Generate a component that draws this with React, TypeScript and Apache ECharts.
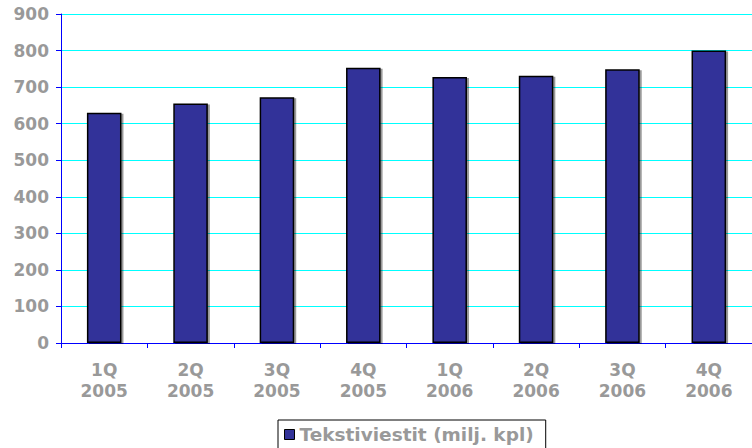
import React, { useEffect, useRef } from "react";
import * as echarts from "echarts";

const categories = ["1Q\n2005", "2Q\n2005", "3Q\n2005", "4Q\n2005", "1Q\n2006", "2Q\n2006", "3Q\n2006", "4Q\n2006"];
const seriesName = "Tekstiviestit (milj. kpl)";
const values = [630, 655, 672, 753, 728, 731, 749, 800];

export default function App() {
  const ref = useRef<HTMLDivElement>(null);
  useEffect(() => {
    const chart = echarts.init(ref.current!, null, { renderer: "svg" });
    const labelStyle = { color: "#999999", fontWeight: "bold" as const, fontFamily: "DejaVu Sans", fontSize: 17 };
    chart.setOption({
      animation: false,
      backgroundColor: "#ffffff",
      grid: { left: 61, top: 14, width: 702, bottom: 105, containLabel: false },
      legend: {
        left: 278,
        top: 420,
        padding: [5, 12, 10, 6],
        borderColor: "#000000",
        borderWidth: 1,
        itemWidth: 10,
        itemHeight: 10,
        itemGap: 7,
        icon: "rect",
        textStyle: { ...labelStyle, fontSize: 18.5 },
        data: [{ name: seriesName, itemStyle: { color: "#333399", borderColor: "#000", borderWidth: 1 } }],
      },
      xAxis: {
        type: "category",
        data: categories,
        axisLine: { lineStyle: { color: "#0000ff", width: 1 } },
        axisTick: { show: true, length: 5, lineStyle: { color: "#0000ff" } },
        axisLabel: { ...labelStyle, lineHeight: 21, margin: 16, interval: 0 },
      },
      yAxis: {
        type: "value",
        min: 0,
        max: 900,
        interval: 100,
        axisLine: { show: true, lineStyle: { color: "#0000ff", width: 1 } },
        axisTick: { show: true, length: 5, lineStyle: { color: "#0000ff" } },
        axisLabel: { ...labelStyle, margin: 12 },
        splitLine: { lineStyle: { color: "#00ffff", width: 1, opacity: 1 } },
      },
      series: [
        {
          name: seriesName,
          type: "bar",
          data: values,
          barWidth: "40%",
          itemStyle: {
            color: "#333399",
            borderColor: "#000000",
            borderWidth: 1.5,
            shadowColor: "rgba(0,0,0,0.4)",
            shadowOffsetX: 2,
            shadowOffsetY: 1,
            shadowBlur: 0,
          },
        },
      ],
    });
    return () => chart.dispose();
  }, []);
  return <div ref={ref} style={{ position: "fixed", left: 0, top: 0, width: 752, height: 448 }} />;
}
